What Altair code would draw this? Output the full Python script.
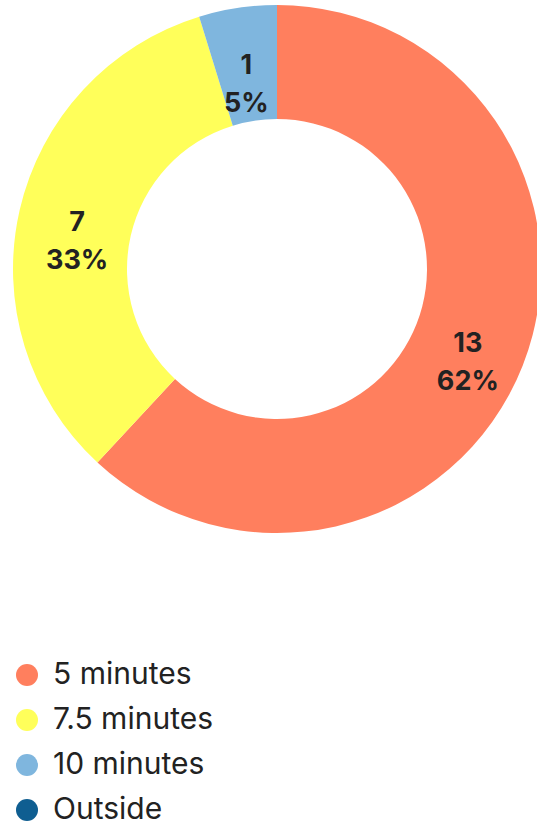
import altair as alt
import pandas as pd

categories = ["5 minutes", "7.5 minutes", "10 minutes", "Outside"]
counts = [13, 7, 1, 0]
colors = ["#FF7F5E", "#FFFF5A", "#7FB6DE", "#0F5E91"]

total = sum(counts)
df = pd.DataFrame({
    "category": categories,
    "count": counts,
    "order": list(range(len(categories))),
})
df["label"] = [f"{c}\n{round(100 * c / total)}%" for c in counts]

base = alt.Chart(df).encode(
    theta=alt.Theta("count:Q", stack=True),
    order=alt.Order("order:Q"),
)

arcs = base.mark_arc(outerRadius=264, innerRadius=150).encode(
    x=alt.value(277),
    y=alt.value(269),
    color=alt.Color(
        "category:N",
        scale=alt.Scale(domain=categories, range=colors),
        sort=categories,
        legend=alt.Legend(
            title=None,
            orient="none",
            legendX=12,
            legendY=660,
            symbolType="circle",
            symbolSize=484,
            symbolStrokeWidth=0,
            labelFontSize=30,
            labelFont="Inter",
            labelColor="#222222",
            labelOffset=11,
            rowPadding=15,
            labelLimit=400,
        ),
    ),
)

texts = base.mark_text(
    radius=205,
    fontSize=27,
    fontWeight="bold",
    font="Inter",
    color="#222222",
    lineBreak="\n",
    lineHeight=38,
).encode(
    x=alt.value(277),
    y=alt.value(269),
    text="label:N",
).transform_filter("datum.count > 0")

chart = alt.layer(arcs, texts).properties(
    width=537,
    height=826,
    autosize=alt.AutoSizeParams(type="none"),
    padding=0,
).configure_view(stroke=None)

chart.save("out.html", embed_options={"renderer": "svg", "actions": False})
